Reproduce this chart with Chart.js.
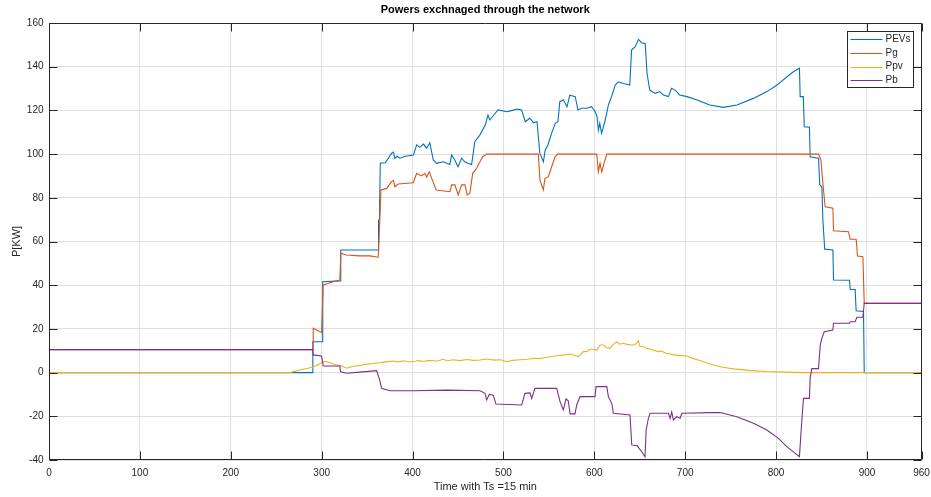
<!DOCTYPE html>
<html>
<head>
<meta charset="utf-8">
<title>Powers exchnaged through the network</title>
<script src="https://cdn.jsdelivr.net/npm/chart.js@4/dist/chart.umd.min.js"></script>
<style>
  html, body { margin: 0; padding: 0; background: #ffffff; }
  #wrap { width: 931px; height: 497px; }
</style>
</head>
<body>
<div id="wrap"><canvas id="chart" width="931" height="497"></canvas></div>
<script>
// Time axis (sample index, Ts = 15 min) and powers in kW for each flow.
const pevsT = [0, 290, 290.3, 300.8, 301.2, 320.5, 321, 362.2, 362.6, 363.6, 364.5, 370, 377, 379, 380.6, 383, 386, 392, 401, 404.5, 408, 412, 415.5, 419, 422.8, 426.5, 434, 441, 443, 446.5, 450, 454, 457.5, 461, 465, 468.5, 474, 480, 483, 485, 491, 494, 504, 510, 515, 520, 524, 529, 533, 537, 540, 544, 546, 549, 553, 557, 560, 562, 566, 570, 573, 579, 582, 586, 592, 597, 601, 603, 604.5, 606, 608, 612, 615.5, 619, 623, 626.5, 632, 639, 641, 645, 648.5, 652, 656, 658, 661, 667, 672, 676, 681.5, 685, 689, 694, 702, 713, 727, 742, 757, 775, 790, 801, 812, 819, 825.7, 826.5, 830, 831, 836.7, 837.5, 846.7, 848, 850.4, 851.5, 853.5, 862.5, 863.2, 880.8, 881.6, 887, 888.1, 896.2, 897, 960];
const pevsP = [0, 0, 14.1, 14.1, 41.6, 42, 56.1, 56.1, 69.8, 70, 95.8, 96, 100.4, 100.9, 98.1, 99, 98.1, 99, 99.6, 104.2, 103.1, 104.6, 102.7, 105.2, 97.3, 95.8, 96.5, 95.2, 99.6, 97.3, 94.2, 98.1, 96.5, 95.8, 95.2, 105.7, 108.7, 113.3, 117.9, 115.6, 118.7, 120.2, 119.4, 120, 120.6, 120.2, 114.8, 116.4, 114.4, 114.8, 100.4, 96.5, 101.9, 104.2, 109.5, 114.1, 114.8, 124, 124.8, 121.7, 127, 126.3, 120.2, 121, 121, 121.7, 119.4, 117.1, 111, 114.1, 109.5, 115.6, 122.5, 126.3, 131.6, 133.1, 132.3, 131.6, 147.6, 149.2, 152.5, 151, 150.6, 137, 129.3, 127.8, 128.6, 127, 126.3, 130.1, 129.3, 127, 126.3, 124.8, 122.5, 121.4, 122.5, 125.5, 128.6, 131.6, 135.4, 137.7, 139.3, 126.3, 126.3, 112.5, 112.3, 98.8, 98.1, 86, 85, 69.8, 56.5, 56.1, 42.4, 42.3, 38.1, 38, 28.3, 28, 0, 0];

const pgT = [0, 290.5, 290.7, 299.9, 301.7, 312.7, 320, 321.1, 327, 342, 353, 362.2, 363.3, 365.2, 371.5, 377, 379, 380.6, 384.2, 400.8, 404.5, 410, 413.6, 415.5, 418.4, 422.5, 426, 441.2, 443, 446.6, 450.3, 454, 457.7, 460.2, 463, 466.2, 470.5, 474.2, 477.2, 481.6, 538.4, 540.2, 543.9, 545.7, 549.4, 553.1, 556.8, 560, 602.7, 604.4, 606.3, 608.2, 610.7, 613.7, 846.7, 849.3, 851.5, 854, 862.5, 863.2, 879.6, 881.6, 888.1, 889.6, 895.5, 897, 960];
const pgP = [10.5, 10.5, 20.3, 18.3, 40.1, 41.6, 42.4, 54.6, 53.8, 53.4, 53.4, 52.8, 62.2, 83.6, 84.3, 87.4, 88, 85.1, 86.3, 86.9, 91.2, 90, 91.2, 89.4, 91.9, 87.4, 83.6, 82.8, 85.9, 85.9, 81.3, 85.9, 85.9, 81.3, 82, 91.2, 93.5, 96.5, 98.8, 100, 100, 88.1, 83.6, 88.8, 89.7, 94.2, 98.8, 100, 100, 91.9, 95.8, 91.9, 95.8, 100, 100, 97.3, 86.6, 75.9, 75.2, 64.9, 64.5, 61, 61, 53.4, 53, 31.7, 31.7];

const ppvT = [0, 265, 276, 285, 290.7, 296, 299.9, 303, 305.4, 309, 312.7, 318, 321.9, 327.4, 332, 336.5, 343, 349.4, 356, 364.1, 370, 378.8, 384, 390, 396, 400.8, 406, 412, 418, 426.5, 433.8, 438, 445, 452, 460, 467, 474.2, 482, 490, 497, 503.6, 510, 518, 526, 534, 540, 547.6, 554, 560, 567, 573.3, 577, 582.4, 587.9, 591.7, 595, 598.9, 602.7, 606.3, 610, 613.5, 617.3, 620.5, 624.7, 628, 632, 636, 640, 643, 646, 648.5, 650.3, 654, 657.7, 664, 670.5, 674, 679, 683, 687, 694, 701.8, 709, 716.4, 727.4, 740, 753, 770, 789.8, 810, 830, 960];
const ppvP = [0, 0, 1.2, 2, 2.7, 3.6, 4.5, 5.1, 5, 4.5, 3.9, 3.4, 3, 2, 2.6, 3, 3.3, 3.9, 4.1, 4.5, 4.9, 5.3, 4.9, 5.4, 5, 5, 5.5, 5.1, 5.6, 5.3, 6.1, 5.4, 5.9, 5.5, 6, 5.6, 5.8, 6.2, 5.7, 5.9, 5, 5.6, 5.9, 6.1, 6.6, 6.4, 7, 7.4, 7.8, 8.1, 8.5, 8.1, 7.3, 9.6, 9.6, 10.7, 10.7, 10.3, 12.6, 12.6, 11.4, 11.1, 12.8, 14.1, 13, 13.4, 12.9, 12.6, 12.6, 13.2, 14.6, 11.9, 11.8, 11.1, 10.3, 9.6, 9.9, 8.8, 8.6, 8.1, 7.9, 7.6, 6.4, 5.5, 3.9, 2.6, 1.7, 1, 0.5, 0.2, 0, 0];

const pbT = [0, 290, 290.7, 299.9, 301.7, 320, 320.8, 327.4, 342, 360.4, 363.3, 366, 375.1, 400.8, 437.5, 474.2, 479.7, 481.6, 484.5, 488.8, 491.8, 520.1, 523.7, 529.2, 531.1, 534.7, 558.6, 562.3, 565.9, 568.9, 571.4, 573.3, 578.8, 580.6, 584.3, 600.8, 601.9, 613.7, 615.5, 619.2, 621, 639.3, 641.2, 647, 652.2, 655.8, 657, 659.5, 661.3, 681.5, 683.4, 685.2, 687, 690.7, 694.4, 696.3, 727.4, 738.4, 756.8, 775.1, 789.8, 802.6, 811.8, 825.7, 827.6, 830.1, 836.7, 837.5, 839.3, 846.7, 848.5, 850.3, 853, 862.5, 863.2, 880.8, 881.6, 887, 888.9, 895.5, 897, 960];
const pbP = [10.5, 10.5, 8.1, 7.6, 3, 3, 0.4, -0.3, 0.2, 0.9, -2.6, -7.2, -8.3, -8.3, -8, -8.3, -9.5, -12.5, -10, -10.4, -14.4, -14.8, -9.5, -9.3, -11.8, -7.2, -7.2, -13.3, -17.1, -12, -13, -18.9, -18.9, -14.8, -11, -11, -6.4, -6.4, -11, -14.1, -18.6, -19.4, -33.1, -33.4, -36.2, -38.5, -26.3, -20.9, -18.6, -18.6, -20.9, -18, -21.7, -20.2, -20.9, -18.6, -18.3, -18.3, -20.2, -23.2, -26.3, -30.1, -33.9, -38.5, -26.3, -11.8, -11.8, -2.6, 1.8, 1.8, 12.2, 15.7, 18.7, 19.5, 22.6, 22.6, 23.3, 23.3, 25.3, 25.3, 31.7, 31.7];

// Axis ticks
const xTicks = [0, 100, 200, 300, 400, 500, 600, 700, 800, 900, 960];
const yTicks = [-40, -20, 0, 20, 40, 60, 80, 100, 120, 140, 160];

const seriesNames = ['PEVs', 'Pg', 'Ppv', 'Pb'];
const seriesColors = ['#0072BD', '#D95319', '#EDB120', '#7E2F8E'];

const zip = (t, v) => t.map((x, i) => ({ x: x, y: v[i] }));
const seriesData = [zip(pevsT, pevsP), zip(pgT, pgP), zip(ppvT, ppvP), zip(pbT, pbP)];

const AXIS_COLOR = '#262626';
const FONT = 'Liberation Sans, Arial, Helvetica, sans-serif';

// Axes box with inward tick marks on all four sides, plus the legend
const boxPlugin = {
  id: 'axesBox',
  afterDatasetsDraw(chart) {
    const { ctx, chartArea: a, scales } = chart;
    const L = Math.round(a.left) + 0.5, R = Math.round(a.right) - 0.5;
    const T = Math.round(a.top) + 0.5, B = Math.round(a.bottom) - 0.5;
    const len = 8;
    ctx.save();
    ctx.strokeStyle = AXIS_COLOR;
    ctx.lineWidth = 1;
    ctx.beginPath();
    ctx.rect(L, T, R - L, B - T);
    scales.x.ticks.forEach(tk => {
      const px = Math.round(scales.x.getPixelForValue(tk.value)) + 0.5;
      ctx.moveTo(px, B); ctx.lineTo(px, B - len);
      ctx.moveTo(px, T); ctx.lineTo(px, T + len);
    });
    scales.y.ticks.forEach(tk => {
      const py = Math.round(scales.y.getPixelForValue(tk.value)) + 0.5;
      ctx.moveTo(L, py); ctx.lineTo(L + len, py);
      ctx.moveTo(R, py); ctx.lineTo(R - len, py);
    });
    ctx.stroke();
    ctx.restore();
  },
  afterDraw(chart) {
    const { ctx, chartArea: a } = chart;
    const w = 66, h = 56, rowH = 13.8;
    const x0 = Math.round(a.right - 9 - w) + 0.5, y0 = Math.round(a.top + 8) + 0.5;
    ctx.save();
    ctx.fillStyle = '#ffffff';
    ctx.fillRect(x0, y0, w, h);
    ctx.strokeStyle = AXIS_COLOR;
    ctx.lineWidth = 1;
    ctx.strokeRect(x0, y0, w, h);
    ctx.font = '10px ' + FONT;
    ctx.textBaseline = 'middle';
    ctx.textAlign = 'left';
    chart.data.datasets.forEach((ds, i) => {
      const yy = y0 + 7.5 + i * rowH;
      ctx.strokeStyle = ds.borderColor;
      ctx.lineWidth = 1.2;
      ctx.beginPath();
      ctx.moveTo(x0 + 3, Math.round(yy) + 0.5);
      ctx.lineTo(x0 + 35, Math.round(yy) + 0.5);
      ctx.stroke();
      ctx.fillStyle = AXIS_COLOR;
      ctx.fillText(ds.label, x0 + 38, yy);
    });
    ctx.restore();
  }
};

new Chart(document.getElementById('chart'), {
  type: 'line',
  data: {
    datasets: seriesNames.map((name, i) => ({
      label: name,
      data: seriesData[i],
      borderColor: seriesColors[i],
      backgroundColor: seriesColors[i],
      borderWidth: 1.1,
      pointRadius: 0,
      tension: 0,
      fill: false,
      order: seriesNames.length - i
    }))
  },
  options: {
    responsive: false,
    animation: false,
    layout: { padding: { left: 0, right: 9.5, top: 0, bottom: 0 } },
    plugins: {
      legend: { display: false },
      tooltip: { enabled: false },
      title: {
        display: true,
        text: 'Powers exchnaged through the network',
        color: '#000000',
        fullSize: false,
        font: { family: FONT, size: 11, weight: 'bold' },
        padding: { top: 3.5, bottom: 6.3 }
      }
    },
    scales: {
      x: {
        type: 'linear',
        min: 0,
        max: 960,
        afterFit(scale) {
          scale.height = 37;
          scale.paddingLeft = 0;
          scale.paddingRight = 0;
        },
        afterBuildTicks(scale) { scale.ticks = xTicks.map(v => ({ value: v })); },
        ticks: {
          autoSkip: false,
          maxRotation: 0,
          padding: 7,
          color: AXIS_COLOR,
          font: { family: FONT, size: 10 },
          callback: v => String(v)
        },
        grid: { color: '#dfdfdf', drawTicks: false, lineWidth: 1 },
        border: { display: false },
        title: {
          display: true,
          text: 'Time with Ts =15 min',
          color: AXIS_COLOR,
          font: { family: FONT, size: 11 },
          padding: { top: 0, bottom: 3.4 }
        }
      },
      y: {
        type: 'linear',
        min: -40,
        max: 160,
        afterFit(scale) {
          scale.width = 49;
          scale.paddingTop = 0;
          scale.paddingBottom = 0;
        },
        afterBuildTicks(scale) { scale.ticks = yTicks.map(v => ({ value: v })); },
        ticks: {
          autoSkip: false,
          padding: 5.5,
          color: AXIS_COLOR,
          font: { family: FONT, size: 10 },
          callback: v => String(v)
        },
        grid: { color: '#dfdfdf', drawTicks: false, lineWidth: 1 },
        border: { display: false },
        title: {
          display: true,
          text: 'P[KW]',
          color: AXIS_COLOR,
          font: { family: FONT, size: 11 },
          padding: { top: 10, bottom: 0 }
        }
      }
    }
  },
  plugins: [boxPlugin]
});
</script>
</body>
</html>
